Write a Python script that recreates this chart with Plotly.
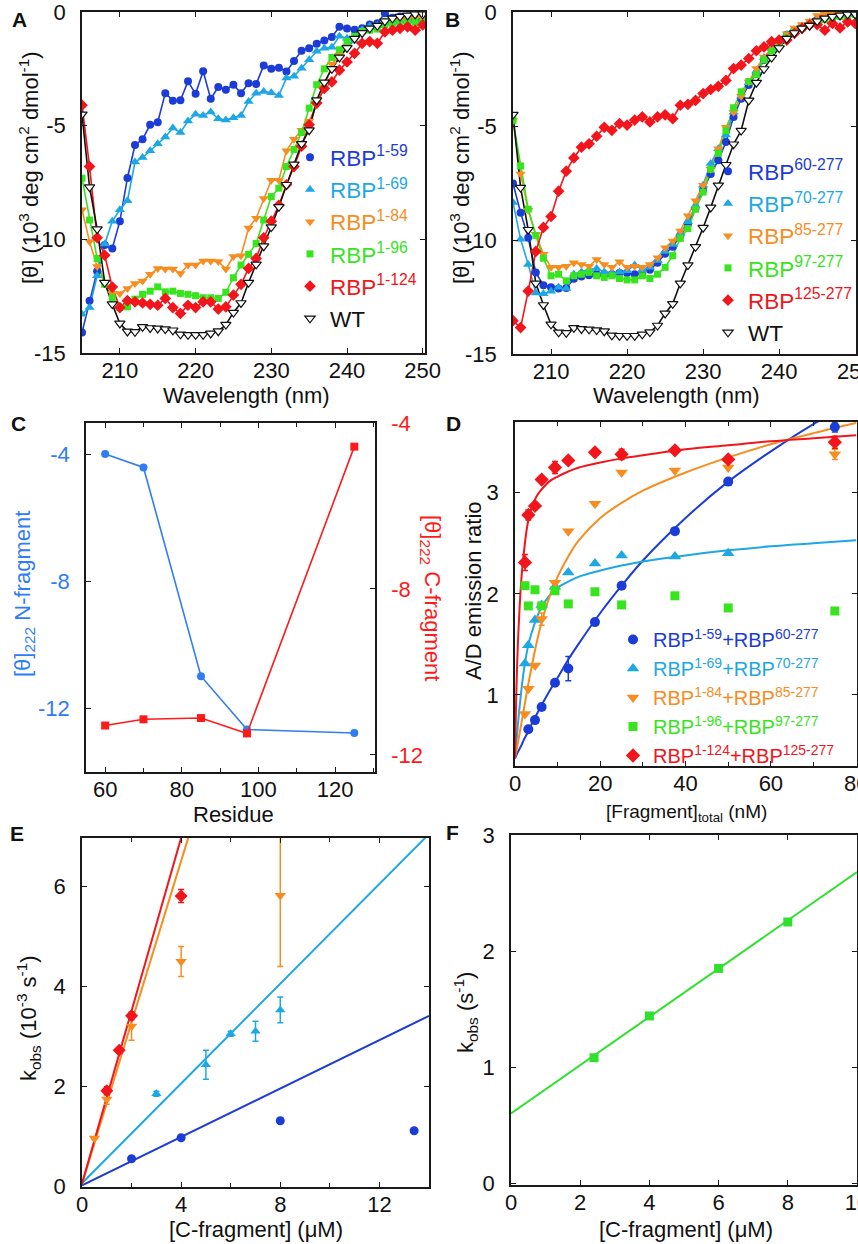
import plotly.graph_objects as go

W, H = 858, 1244
FONT = "Liberation Sans, Arial, Helvetica, sans-serif"
TXT = "#111111"

DBLUE = "#1b3cd6"
LBLUE = "#1ea7e5"
ORANGE = "#f78d1f"
GREEN = "#37e41e"
RED = "#f2151b"
CBLUE = "#2f7cf4"
CRED = "#ff1a1a"
FGREEN = "#2fe02f"

# ---------------- Panel A / B : CD spectra ----------------
wavelength = list(range(205, 251))

cd_wt = [-4.5, -7.7, -9.55, -11.9, -12.85, -13.7, -14.05, -14.07, -13.85, -13.9,
         -13.92, -13.95, -14.0, -14.18, -14.2, -14.2, -14.2, -14.14, -14.04, -13.75,
         -13.22, -12.8, -11.9, -11.1, -10.3, -9.46, -8.57, -7.6, -6.7, -5.8,
         -5.2, -3.88, -3.1, -2.5, -2.0, -1.58, -1.17, -0.92, -0.72, -0.6,
         -0.4, -0.28, -0.2, -0.15, -0.1, -0.1]

cd_n59 = [-14.1, -12.7, -11.4, -10.25, -10.4, -9.2, -7.3, -5.85, -5.6, -4.96,
          -4.85, -3.57, -3.9, -3.88, -3.05, -3.6, -2.61, -3.82, -3.3, -3.42,
          -3.2, -3.57, -3.13, -3.17, -2.35, -2.5, -2.45, -2.62, -2.15, -1.7,
          -1.6, -1.4, -1.25, -1.1, -0.65, -0.73, -0.78, -0.72, -0.55, -0.5,
          -0.05, -0.25, -0.2, -0.2, -0.3, -0.4]

cd_n69 = [-13.3, -13.0, -11.6, -10.2, -9.2, -8.7, -8.3, -6.6, -6.4, -6.1,
          -5.8, -5.5, -5.1, -5.3, -4.8, -4.5, -4.55, -4.4, -4.7, -4.75,
          -4.65, -4.55, -3.94, -3.57, -3.5, -3.55, -3.67, -2.9, -2.83, -2.47,
          -2.1, -1.73, -1.59, -1.55, -1.07, -1.15, -1.29, -0.78, -0.63, -0.6,
          -0.5, -0.45, -0.4, -0.4, -0.4, -0.4]

cd_n84 = [-8.7, -10.1, -11.2, -11.9, -12.38, -12.38, -12.16, -11.94, -11.83, -11.54,
          -11.28, -11.3, -11.3, -11.5, -11.13, -11.13, -10.95, -10.95, -10.98, -11.3,
          -10.76, -10.72, -9.5, -9.07, -8.2, -7.4, -7.4, -6.1, -5.6, -5.2,
          -4.8, -4.1, -3.3, -2.3, -1.9, -1.5, -1.2, -0.95, -0.75, -0.6,
          -0.5, -0.4, -0.35, -0.3, -0.3, -0.25]

cd_n96 = [-7.31, -9.15, -10.84, -11.98, -12.57, -13.0, -12.97, -12.63, -12.42, -12.28,
          -12.09, -12.31, -12.28, -12.38, -12.42, -12.48, -12.57, -12.57, -12.6, -12.33,
          -11.69, -11.13, -10.66, -10.18, -9.15, -8.12, -7.75, -6.8, -6.05, -5.3,
          -4.23, -3.2, -2.5, -2.0, -1.66, -1.3, -1.07, -0.85, -0.8, -0.75,
          -0.55, -0.5, -0.5, -0.45, -0.45, -0.45]

cd_n124 = [-4.1, -6.8, -9.93, -10.7, -12.1, -13.0, -12.7, -12.75, -12.8, -12.86,
           -12.9, -12.6, -13.0, -13.26, -12.9, -13.0, -12.75, -12.75, -13.07, -12.97,
           -12.45, -11.98, -11.28, -10.84, -9.93, -9.2, -8.5, -7.6, -6.8, -5.9,
           -4.96, -4.0, -3.36, -3.07, -2.56, -2.2, -1.82, -1.38, -1.3, -1.38,
           -0.87, -0.8, -0.72, -0.65, -0.8, -0.57]

cd_c60 = [-7.52, -8.8, -9.9, -11.43, -11.98, -12.07, -12.13, -12.1, -11.7, -11.6,
          -11.55, -11.5, -11.5, -11.5, -11.45, -11.45, -11.5, -11.45, -11.3, -11.0,
          -10.6, -10.3, -9.8, -9.3, -8.6, -7.8, -7.1, -6.5, -5.7, -4.6,
          -3.8, -3.2, -2.7, -2.1, -1.6, -1.3, -1.0, -0.8, -0.65, -0.5,
          -0.35, -0.25, -0.2, -0.15, -0.1, -0.1]

cd_c70 = [-8.35, -9.97, -11.07, -12.32, -12.36, -12.25, -12.07, -12.13, -11.5, -11.4,
          -11.3, -11.25, -11.4, -11.45, -11.4, -11.35, -11.1, -11.3, -11.2, -10.9,
          -10.5, -10.2, -9.7, -9.2, -8.5, -7.6, -6.65, -6.0, -5.4, -4.4,
          -3.7, -3.1, -2.6, -2.0, -1.6, -1.25, -1.0, -0.8, -0.6, -0.45,
          -0.35, -0.25, -0.2, -0.15, -0.1, -0.1]

cd_c85 = [-4.76, -7.1, -8.7, -9.75, -10.63, -11.2, -11.2, -11.15, -11.0, -11.07,
          -11.15, -10.85, -11.07, -11.2, -10.95, -11.2, -11.15, -11.2, -11.07, -10.78,
          -10.34, -10.04, -9.6, -8.94, -8.28, -7.6, -6.9, -6.0, -5.05, -4.4,
          -3.7, -3.07, -2.48, -1.97, -1.6, -1.25, -0.95, -0.7, -0.55, -0.4,
          -0.15, -0.1, -0.1, -0.05, 0.0, 0.0]

cd_c97 = [-4.75, -6.75, -8.65, -9.8, -10.8, -11.57, -11.5, -11.79, -11.57, -11.5,
          -11.42, -11.57, -11.64, -11.57, -11.69, -11.75, -11.75, -11.57, -11.69, -11.5,
          -11.2, -10.69, -9.93, -9.5, -8.65, -7.9, -6.9, -6.2, -5.2, -4.2,
          -3.5, -3.05, -2.75, -2.1, -1.7, -1.35, -1.1, -0.85, -0.7, -0.55,
          -0.42, -0.34, -0.26, -0.2, -0.15, -0.1]

cd_c125 = [-13.54, -13.84, -12.24, -10.5, -9.45, -8.97, -7.86, -6.98, -6.4, -5.93,
           -5.78, -5.45, -5.06, -5.19, -4.9, -4.96, -4.74, -4.6, -4.82, -4.6,
           -4.51, -4.68, -4.09, -4.05, -3.88, -3.58, -3.4, -3.26, -3.0, -2.48,
           -2.33, -2.04, -1.7, -1.53, -1.3, -1.23, -1.23, -0.94, -0.72, -0.57,
           -0.55, -0.8, -0.5, -0.7, -0.43, -0.5]

cd_xticks = [210, 220, 230, 240, 250]
cd_yticks = [0, -5, -10, -15]
cd_yticktext = ["0", "-5", "-10", "-15"]

# ---------------- Panel C ----------------
residue = [60, 70, 85, 97, 125]
theta_n = [-3.98, -4.4, -10.98, -12.66, -12.77]
theta_c = [-11.29, -11.14, -11.11, -11.48, -4.57]
c_xticks = [60, 80, 100, 120]
c_xminor = [60, 70, 80, 90, 100, 110, 120, 130]
c_yticks = [-4, -8, -12]
c_yticktext = ["-4", "-8", "-12"]

# ---------------- Panel D ----------------
conc_nm = [2.34, 3.125, 4.69, 6.25, 9.375, 12.5, 18.75, 25, 37.5, 50, 75]
d59_x = [3.125, 4.69, 6.25, 9.375, 12.5, 18.75, 25, 37.5, 50, 75]
d59_y = [0.66, 0.75, 0.88, 1.12, 1.26, 1.72, 2.08, 2.62, 3.11, 3.65]
d59_err = [0, 0, 0, 0, 0.12, 0, 0, 0, 0, 0.05]
d69_x = [2.34, 3.125, 4.69, 6.25, 9.375, 12.5, 18.75, 25, 37.5, 50]
d69_y = [1.31, 1.49, 1.74, 1.89, 2.07, 2.21, 2.30, 2.38, 2.37, 2.40]
d84_y = [0.81, 1.06, 1.29, 1.75, 2.11, 2.62, 2.89, 3.20, 3.22, 3.25, 3.38]
d84_err = [0, 0, 0, 0.06, 0, 0, 0, 0, 0, 0, 0.05]
d96_y = [2.08, 1.88, 2.04, 1.88, 2.03, 1.90, 2.02, 1.89, 1.98, 1.86, 1.83]
d124_y = [2.31, 2.78, 2.87, 3.13, 3.25, 3.32, 3.40, 3.38, 3.42, 3.33, 3.50]
d124_err = [0.08, 0.05, 0, 0, 0.06, 0, 0, 0.05, 0, 0, 0.06]

dfit_x = [0, 0.5, 1, 1.5, 2, 3, 4, 5, 6, 8, 10, 12.5, 15, 20, 25, 30, 40, 50, 60, 70, 80]
dfit_59 = [0.37, 0.42, 0.46, 0.50, 0.55, 0.63, 0.72, 0.80, 0.88, 1.03, 1.17, 1.35, 1.51,
           1.81, 2.08, 2.33, 2.75, 3.11, 3.41, 3.68, 3.91]
dfit_69 = [0.38, 0.62, 0.85, 1.05, 1.22, 1.47, 1.63, 1.75, 1.85, 1.98, 2.06, 2.12, 2.17,
           2.23, 2.28, 2.32, 2.38, 2.43, 2.47, 2.50, 2.53]
dfit_84 = [0.38, 0.48, 0.60, 0.72, 0.84, 1.08, 1.30, 1.50, 1.68, 1.96, 2.17, 2.37, 2.53,
           2.75, 2.90, 3.02, 3.20, 3.35, 3.48, 3.59, 3.69]
dfit_124 = [0.38, 1.30, 1.80, 2.15, 2.38, 2.70, 2.86, 2.96, 3.02, 3.11, 3.16, 3.21, 3.25,
            3.30, 3.34, 3.37, 3.43, 3.47, 3.51, 3.54, 3.57]
d_xticks = [0, 20, 40, 60, 80]
d_xminor = [0, 10, 20, 30, 40, 50, 60, 70, 80]
d_yticks = [1, 2, 3]

# ---------------- Panel E ----------------
e59_x = [2, 4, 8, 13.4]
e59_y = [0.55, 0.97, 1.31, 1.11]
e69_x = [3, 5, 6, 7, 8]
e69_y = [1.85, 2.43, 3.05, 3.10, 3.53]
e69_err = [0.05, 0.29, 0.05, 0.2, 0.26]
e84_x = [0.5, 1, 2, 4, 8]
e84_y = [0.96, 1.74, 3.2, 4.5, 5.82]
e84_err = [0.03, 0.1, 0.28, 0.3, 1.42]
e124_x = [1, 1.5, 2, 4]
e124_y = [1.91, 2.72, 3.41, 5.81]
e124_err = [0.08, 0.05, 0.08, 0.13]
efit_59_x = [0, 14]
efit_59_y = [0.02, 3.41]
efit_69_x = [0, 14]
efit_69_y = [0.06, 7.05]
efit_84_x = [0, 4.5]
efit_84_y = [0.05, 7.32]
efit_124_x = [0, 4.2]
efit_124_y = [0.05, 7.32]
e_xticks = [0, 4, 8, 12]
e_xminor = [0, 2, 4, 6, 8, 10, 12, 14]
e_yticks = [0, 2, 4, 6]

# ---------------- Panel F ----------------
f_x = [2.4, 4, 6, 8]
f_y = [1.08, 1.44, 1.85, 2.25]
ffit_x = [0, 10]
ffit_y = [0.6, 2.68]
f_xticks = [0, 2, 4, 6, 8, 10]
f_yticks = [0, 1, 2, 3]


def X(px):
    return px / W


def Y(py):
    return 1 - py / H


def lab(sup, color, base="RBP"):
    return f"<span style='color:{color}'>{base}<sup>{sup}</sup></span>"


fig = go.Figure()

# ---- A / B ----
a_series = [
    (cd_n59, DBLUE, "circle", 8, lab("1-59", DBLUE)),
    (cd_n69, LBLUE, "triangle-up", 9, lab("1-69", LBLUE)),
    (cd_n84, ORANGE, "triangle-down", 9, lab("1-84", ORANGE)),
    (cd_n96, GREEN, "square", 7, lab("1-96", GREEN)),
    (cd_n124, RED, "diamond", 9, lab("1-124", RED)),
]
b_series = [
    (cd_c60, DBLUE, "circle", 8, lab("60-277", DBLUE)),
    (cd_c70, LBLUE, "triangle-up", 9, lab("70-277", LBLUE)),
    (cd_c85, ORANGE, "triangle-down", 9, lab("85-277", ORANGE)),
    (cd_c97, GREEN, "square", 7, lab("97-277", GREEN)),
    (cd_c125, RED, "diamond", 9, lab("125-277", RED)),
]

for series, xa, ya, lg in [(a_series, "x", "y", "legend"), (b_series, "x2", "y2", "legend2")]:
    for vals, col, sym, sz, nm in series:
        fig.add_trace(go.Scatter(x=wavelength, y=vals, mode="lines", line=dict(color=col, width=1.6),
                                 xaxis=xa, yaxis=ya, showlegend=False, hoverinfo="skip"))
    fig.add_trace(go.Scatter(x=wavelength, y=cd_wt, mode="lines", line=dict(color=TXT, width=1.6),
                             xaxis=xa, yaxis=ya, showlegend=False, hoverinfo="skip"))
    for vals, col, sym, sz, nm in series:
        fig.add_trace(go.Scatter(x=wavelength, y=vals, mode="markers", name=nm,
                                 marker=dict(color=col, symbol=sym, size=sz, line=dict(width=0)),
                                 xaxis=xa, yaxis=ya, legend=lg))
    fig.add_trace(go.Scatter(x=wavelength, y=cd_wt, mode="markers", name="WT",
                             marker=dict(color="white", symbol="triangle-down", size=9,
                                         line=dict(color=TXT, width=1.2)),
                             xaxis=xa, yaxis=ya, legend=lg))

# ---- C ----
fig.add_trace(go.Scatter(x=residue, y=theta_n, mode="lines+markers", line=dict(color=CBLUE, width=1.6),
                         marker=dict(color=CBLUE, symbol="circle", size=8), xaxis="x3", yaxis="y3",
                         showlegend=False))
fig.add_trace(go.Scatter(x=residue, y=theta_c, mode="lines+markers", line=dict(color=CRED, width=1.6),
                         marker=dict(color=CRED, symbol="square", size=8), xaxis="x3", yaxis="y4",
                         showlegend=False))

# ---- D ----
for fy, col in [(dfit_59, DBLUE), (dfit_69, LBLUE), (dfit_84, ORANGE), (dfit_124, RED)]:
    fig.add_trace(go.Scatter(x=dfit_x, y=fy, mode="lines", line=dict(color=col, width=2, shape="spline"),
                             xaxis="x4", yaxis="y5", showlegend=False, hoverinfo="skip"))

d_pts = [
    (d59_x, d59_y, d59_err, DBLUE, "circle", 10, "1-59", "60-277"),
    (d69_x, d69_y, [0] * len(d69_y), LBLUE, "triangle-up", 11, "1-69", "70-277"),
    (conc_nm, d84_y, d84_err, ORANGE, "triangle-down", 11, "1-84", "85-277"),
    (conc_nm, d96_y, [0] * len(d96_y), GREEN, "square", 9, "1-96", "97-277"),
    (conc_nm, d124_y, d124_err, RED, "diamond", 11, "1-124", "125-277"),
]
for xx, yy, ee, col, sym, sz, s1, s2 in d_pts:
    nm = f"<span style='color:{col}'>RBP<sup>{s1}</sup>+RBP<sup>{s2}</sup></span>"
    fig.add_trace(go.Scatter(x=xx, y=yy, mode="markers", name=nm,
                             marker=dict(color=col, symbol=sym, size=sz, line=dict(width=0)),
                             error_y=dict(type="data", array=ee, color=col, thickness=1.5, width=3),
                             xaxis="x4", yaxis="y5", legend="legend3"))

# ---- E ----
for fx, fy, col in [(efit_59_x, efit_59_y, DBLUE), (efit_69_x, efit_69_y, LBLUE),
                    (efit_84_x, efit_84_y, ORANGE), (efit_124_x, efit_124_y, RED)]:
    fig.add_trace(go.Scatter(x=fx, y=fy, mode="lines", line=dict(color=col, width=2),
                             xaxis="x5", yaxis="y6", showlegend=False, hoverinfo="skip"))
e_pts = [
    (e59_x, e59_y, None, DBLUE, "circle", 9),
    (e69_x, e69_y, e69_err, LBLUE, "triangle-up", 9),
    (e84_x, e84_y, e84_err, ORANGE, "triangle-down", 10),
    (e124_x, e124_y, e124_err, RED, "diamond", 10),
]
for xx, yy, ee, col, sym, sz in e_pts:
    kw = {}
    if ee is not None:
        kw["error_y"] = dict(type="data", array=ee, color=col, thickness=1.5, width=3)
    fig.add_trace(go.Scatter(x=xx, y=yy, mode="markers",
                             marker=dict(color=col, symbol=sym, size=sz, line=dict(width=0)),
                             xaxis="x5", yaxis="y6", showlegend=False, **kw))

# ---- F ----
fig.add_trace(go.Scatter(x=ffit_x, y=ffit_y, mode="lines", line=dict(color=FGREEN, width=2),
                         xaxis="x6", yaxis="y7", showlegend=False, hoverinfo="skip"))
fig.add_trace(go.Scatter(x=f_x, y=f_y, mode="markers", marker=dict(color=FGREEN, symbol="square", size=9),
                         xaxis="x6", yaxis="y7", showlegend=False))


def axis(xdir=True, **kw):
    d = dict(showline=True, linecolor="#1a1a1a", linewidth=1.5, mirror="ticks",
             ticks="inside", ticklen=5, tickwidth=1.3, tickcolor="#1a1a1a",
             showgrid=False, zeroline=False, tickmode="array", automargin=False,
             ticklabeloverflow="allow",
             tickfont=dict(family=FONT, size=22, color=TXT),
             ticklabelstandoff=-3 if xdir else 10)
    d.update(kw)
    return d


def minor(vals):
    return dict(tickmode="array", tickvals=vals, ticks="inside", ticklen=4, tickwidth=1.2,
                tickcolor="#1a1a1a")


layout = dict(
    width=W, height=H, margin=dict(l=0, r=0, t=0, b=0, pad=0, autoexpand=False),
    paper_bgcolor="white", plot_bgcolor="white",
    font=dict(family=FONT, size=22, color=TXT),
    showlegend=True,
    xaxis=axis(domain=[X(82), X(425)], range=[205, 250.3], tickvals=cd_xticks, anchor="y"),
    yaxis=axis(False, domain=[Y(353), Y(12)], range=[-15, 0], tickvals=cd_yticks, ticktext=cd_yticktext, anchor="x"),
    xaxis2=axis(domain=[X(513), X(856)], range=[205, 250.1], tickvals=cd_xticks, anchor="y2"),
    yaxis2=axis(False, domain=[Y(354), Y(12)], range=[-15, 0], tickvals=cd_yticks, ticktext=cd_yticktext, anchor="x2"),
    xaxis3=axis(domain=[X(86), X(375)], range=[55, 130.4], tickvals=c_xticks, minor=minor(c_xminor), anchor="y3"),
    yaxis3=axis(False, domain=[Y(772), Y(423)], range=[-14, -3], tickvals=c_yticks, ticktext=c_yticktext,
                mirror=False, anchor="x3", tickfont=dict(family=FONT, size=22, color=CBLUE)),
    yaxis4=axis(False, range=[-12.41, -4.0], tickvals=c_yticks, ticktext=c_yticktext, mirror=False,
                overlaying="y3", side="right", anchor="x3", tickfont=dict(family=FONT, size=22, color=CRED)),
    xaxis4=axis(domain=[X(515), X(857)], range=[0, 80.2], tickvals=d_xticks, minor=minor(d_xminor), anchor="y5"),
    yaxis5=axis(False, domain=[Y(766), Y(422)], range=[0.296, 3.70], tickvals=d_yticks, anchor="x4"),
    xaxis5=axis(domain=[X(82), X(429)], range=[0, 14], tickvals=e_xticks, minor=minor(e_xminor), anchor="y6"),
    yaxis6=axis(False, domain=[Y(1187), Y(838)], range=[-0.015, 6.97], tickvals=e_yticks, anchor="x5"),
    xaxis6=axis(domain=[X(511), X(857)], range=[0, 10], tickvals=f_xticks, anchor="y7"),
    yaxis7=axis(False, domain=[Y(1185), Y(835)], range=[-0.017, 3.0], tickvals=f_yticks, anchor="x6"),
    legend=dict(x=X(290), y=Y(136), xanchor="left", yanchor="top", bgcolor="rgba(0,0,0,0)",
                font=dict(family=FONT, size=22.5, color=TXT), traceorder="normal"),
    legend2=dict(x=X(708), y=Y(150), xanchor="left", yanchor="top", bgcolor="rgba(0,0,0,0)",
                 font=dict(family=FONT, size=22.5, color=TXT), traceorder="normal"),
    legend3=dict(x=X(613), y=Y(620), xanchor="left", yanchor="top", bgcolor="rgba(0,0,0,0)",
                 font=dict(family=FONT, size=20, color=TXT), traceorder="normal"),
)

ann = []


def text(x, y, s, size=21, color=TXT, angle=0, bold=False):
    if bold:
        s = f"<b>{s}</b>"
    ann.append(dict(x=X(x), y=Y(y), xref="paper", yref="paper", text=s, showarrow=False,
                    textangle=angle, xanchor="center", yanchor="middle",
                    font=dict(family=FONT, size=size, color=color)))


for letter, lx, ly in [("A", 19, 20), ("B", 452, 19), ("C", 18, 423), ("D", 453, 423),
                       ("E", 17, 833), ("F", 452, 832)]:
    text(lx, ly, letter, size=21, bold=True)

cd_ytitle = "[θ] (10<sup>3</sup> deg cm<sup>2</sup> dmol<sup>-1</sup>)"
text(246, 396, "Wavelength (nm)", size=22)
text(676, 396, "Wavelength (nm)", size=22)
text(29, 168, cd_ytitle, size=22, angle=-90)
text(460, 168, cd_ytitle, size=22, angle=-90)
text(234, 815, "Residue", size=22)
text(24, 594, "[θ]<sub>222</sub> N-fragment", size=22, color=CBLUE, angle=-90)
text(431, 598, "[θ]<sub>222</sub> C-fragment", size=22, color=CRED, angle=90)
text(686, 813, "[Fragment]<sub>total</sub> (nM)", size=19)
text(473, 591, "A/D emission ratio", size=22, angle=-90)
text(256, 1229, "[C-fragment] (μM)", size=22)
text(686, 1229, "[C-fragment] (μM)", size=22)
text(28, 1018, "k<sub>obs</sub> (10<sup>-3</sup> s<sup>-1</sup>)", size=22, angle=-90)
text(465, 1013, "k<sub>obs</sub> (s<sup>-1</sup>)", size=22, angle=-90)

layout["annotations"] = ann
fig.update_layout(**layout)
fig.write_html("out.html", config={"displayModeBar": False},
               post_script="document.body.style.margin='0px';document.body.style.overflow='hidden';")
